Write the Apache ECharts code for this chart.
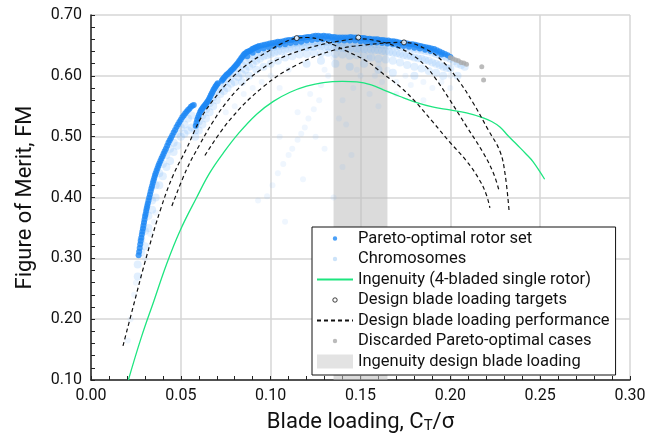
<!DOCTYPE html>
<html><head><meta charset="utf-8">
<script src="https://cdn.jsdelivr.net/npm/echarts@6/dist/echarts.min.js"></script>
<style>html,body{margin:0;padding:0;background:#fff}#c{width:653px;height:439px}</style>
</head><body><div id="c"></div>
<script>
// ---- tick labels ----
const xTickLabels = ['0.00','0.05','0.10','0.15','0.20','0.25','0.30'];
const yTickLabels = ['0.10','0.20','0.30','0.40','0.50','0.60','0.70'];

// ---- Ingenuity design blade loading band (Ct/sigma range) ----
const designBand = [0.135, 0.165];

// ---- Pareto-optimal rotor set [Ct/sigma, FM] ----
const paretoSet = [
[0.0265,0.305],[0.0268,0.311],[0.0271,0.317],[0.0274,0.323],[0.0277,0.329],[0.0280,0.334],[0.0283,0.339],[0.0286,0.344],[0.0289,0.349],[0.0292,0.354],[0.0295,0.359],[0.0298,0.364],[0.0301,0.369],[0.0304,0.373],[0.0307,0.378],[0.0310,0.382],[0.0313,0.386],[0.0316,0.390],[0.0320,0.395],[0.0324,0.400],[0.0328,0.405],[0.0332,0.410],[0.0336,0.415],[0.0340,0.419],[0.0344,0.424],[0.0348,0.428],[0.0352,0.432],[0.0356,0.436],[0.0360,0.440],[0.0365,0.444],[0.0370,0.448],[0.0375,0.452],[0.0380,0.456],[0.0386,0.460],[0.0392,0.464],[0.0398,0.468],[0.0404,0.472],[0.0410,0.476],[0.0417,0.480],[0.0424,0.485],[0.0431,0.490],[0.0438,0.494],[0.0445,0.498],[0.0452,0.502],[0.0460,0.507],[0.0468,0.511],[0.0476,0.516],[0.0484,0.520],[0.0492,0.524],[0.0500,0.528],[0.0508,0.532],[0.0516,0.535],[0.0524,0.538],[0.0532,0.541],[0.0540,0.544],[0.0548,0.546],[0.0556,0.549],[0.0564,0.551],[0.0572,0.552],
[0.0583,0.518],[0.0587,0.523],[0.0591,0.528],[0.0596,0.532],[0.0601,0.536],[0.0607,0.54],[0.0612,0.543],[0.0617,0.545],[0.0622,0.547],[0.0627,0.549],[0.0632,0.551],[0.0637,0.553],[0.0642,0.555],[0.0647,0.557],[0.0652,0.559],[0.0657,0.562],[0.0662,0.565],[0.0667,0.568],[0.0672,0.571],[0.0677,0.574],[0.0682,0.577],[0.0687,0.579],[0.0692,0.582],[0.0697,0.584],[0.0702,0.586],[0.0706,0.588],
[0.0728,0.592],[0.0733,0.594],[0.0738,0.596],[0.0744,0.598],[0.0750,0.6],[0.0756,0.602],[0.0762,0.603],[0.0768,0.605],[0.0775,0.607],[0.0781,0.609],[0.0788,0.611],[0.0794,0.613],[0.0800,0.615],[0.0806,0.617],[0.0812,0.619],[0.0818,0.621],[0.0824,0.624],[0.0830,0.626],[0.0836,0.629],[0.0842,0.631],[0.0848,0.634],[0.0854,0.636],[0.0860,0.637],[0.0868,0.639],[0.0875,0.64],[0.0883,0.641],[0.0890,0.642],[0.0898,0.644],[0.0905,0.645],[0.0913,0.646],[0.0920,0.647],[0.0928,0.648],[0.0935,0.649],[0.0950,0.65],[0.0965,0.651],[0.0980,0.652],[0.0995,0.653],[0.1010,0.654],[0.1025,0.655],[0.1040,0.656],[0.1055,0.656],[0.1070,0.657],[0.1085,0.658],[0.1100,0.659],[0.1115,0.659],[0.1130,0.66],[0.1145,0.661],[0.1160,0.662],[0.1175,0.662],[0.1190,0.663],[0.1205,0.664],[0.1220,0.664],[0.1235,0.665],[0.1250,0.666],[0.1265,0.666],[0.1280,0.665],[0.1295,0.666],[0.1310,0.665],[0.1325,0.665],[0.1340,0.664],[0.1355,0.664],[0.1370,0.663],[0.1385,0.663],[0.1400,0.663],[0.1415,0.663],[0.1430,0.663],[0.1445,0.664],[0.1460,0.663],[0.1475,0.663],[0.1490,0.662],[0.1505,0.662],[0.1520,0.662],[0.1535,0.661],[0.1550,0.661],[0.1565,0.66],[0.1580,0.66],[0.1595,0.66],[0.1610,0.659],[0.1625,0.659],[0.1640,0.658],[0.1655,0.658],[0.1670,0.657],[0.1685,0.657],[0.1700,0.656],[0.1715,0.655],[0.1730,0.654],[0.1745,0.654],[0.1760,0.653],[0.1775,0.652],[0.1790,0.652],[0.1805,0.651],[0.1820,0.65],[0.1835,0.649],[0.1850,0.648],[0.1865,0.647],[0.1880,0.646],[0.1895,0.645],[0.1910,0.644],[0.1925,0.642],[0.1940,0.64],[0.1955,0.638],[0.1970,0.636],[0.1985,0.634],[0.2000,0.631],
[0.0870,0.632],[0.0900,0.638],[0.0930,0.642],[0.0960,0.645],[0.0990,0.647],[0.1020,0.649],[0.1050,0.651],[0.1080,0.652],[0.1110,0.654],[0.1140,0.655],[0.1170,0.656],[0.1200,0.658],[0.1230,0.659],[0.1260,0.66],[0.1290,0.66],[0.1320,0.66],[0.1350,0.659],[0.1380,0.658],[0.1410,0.658],[0.1440,0.658],[0.1470,0.658],[0.1500,0.657],[0.1530,0.656],[0.1560,0.655],[0.1590,0.655],[0.1620,0.654],[0.1650,0.653],[0.1680,0.652],[0.1710,0.65],[0.1740,0.649],[0.1770,0.648],[0.1800,0.646],[0.1830,0.645],[0.1860,0.643],[0.1890,0.641],[0.1920,0.638],[0.1950,0.635]
];

// ---- Chromosomes: dense fringe just below the front ----
const chromosomesDense = [
[0.026,0.29],[0.026,0.27],[0.028,0.31],[0.028,0.33],[0.030,0.345],[0.030,0.32],[0.032,0.37],[0.032,0.35],[0.034,0.395],[0.034,0.38],[0.036,0.42],[0.036,0.40],[0.038,0.44],[0.038,0.42],[0.040,0.455],[0.040,0.435],[0.042,0.47],[0.042,0.45],[0.044,0.48],[0.044,0.46],[0.046,0.49],[0.046,0.475],[0.048,0.505],[0.048,0.485],[0.050,0.515],[0.050,0.50],[0.052,0.52],[0.052,0.505],[0.054,0.53],[0.054,0.51],[0.056,0.535],[0.056,0.515],
[0.058,0.51],[0.058,0.50],[0.060,0.525],[0.060,0.51],[0.062,0.535],[0.062,0.52],[0.064,0.545],[0.064,0.53],[0.066,0.555],[0.066,0.54],[0.068,0.565],[0.068,0.55],[0.070,0.575],[0.070,0.56],[0.072,0.582],[0.072,0.57],[0.074,0.588],[0.074,0.575],[0.076,0.594],[0.076,0.58],[0.078,0.60],[0.078,0.587],[0.080,0.605],[0.080,0.59],[0.082,0.612],[0.082,0.598],
[0.084,0.618],[0.084,0.603],[0.084,0.59],[0.086,0.624],[0.086,0.61],[0.088,0.629],[0.088,0.615],[0.088,0.60],[0.090,0.634],[0.090,0.62],[0.092,0.637],[0.092,0.625],[0.092,0.61],[0.094,0.64],[0.094,0.628],[0.096,0.642],[0.096,0.632],[0.096,0.615],[0.098,0.645],[0.098,0.634],[0.100,0.647],[0.100,0.636],[0.100,0.62],
[0.102,0.648],[0.102,0.638],[0.104,0.649],[0.104,0.64],[0.104,0.625],[0.106,0.650],[0.106,0.641],[0.108,0.651],[0.108,0.643],[0.108,0.63],[0.110,0.652],[0.110,0.644],[0.112,0.653],[0.112,0.645],[0.112,0.632],[0.114,0.654],[0.114,0.646],[0.116,0.655],[0.116,0.646],[0.116,0.635],[0.118,0.655],[0.118,0.647],[0.120,0.656],[0.120,0.647],[0.120,0.636],[0.120,0.62],[0.122,0.657],[0.122,0.648],[0.124,0.657],[0.124,0.648],[0.124,0.638],[0.126,0.657],[0.126,0.649],[0.128,0.657],[0.128,0.649],[0.128,0.637],[0.128,0.625],
[0.130,0.656],[0.130,0.648],[0.132,0.656],[0.132,0.648],[0.132,0.638],[0.134,0.656],[0.134,0.647],[0.136,0.655],[0.136,0.647],[0.136,0.636],[0.136,0.62],[0.138,0.655],[0.138,0.646],[0.140,0.655],[0.140,0.646],[0.140,0.635],[0.142,0.655],[0.142,0.645],[0.144,0.655],[0.144,0.645],[0.144,0.633],[0.144,0.615],[0.146,0.654],[0.146,0.645],[0.148,0.654],[0.148,0.645],[0.148,0.634],[0.150,0.654],[0.150,0.644],[0.152,0.654],[0.152,0.644],[0.152,0.632],[0.152,0.62],
[0.154,0.653],[0.154,0.643],[0.156,0.653],[0.156,0.643],[0.156,0.63],[0.158,0.652],[0.158,0.642],[0.160,0.652],[0.160,0.642],[0.160,0.628],[0.160,0.61],[0.162,0.651],[0.162,0.641],[0.164,0.651],[0.164,0.64],[0.164,0.627],[0.166,0.650],[0.166,0.639],[0.168,0.65],[0.168,0.638],[0.168,0.625],[0.168,0.605],[0.170,0.649],[0.170,0.637],[0.172,0.648],[0.172,0.636],[0.172,0.622],[0.174,0.647],[0.174,0.634],[0.176,0.646],[0.176,0.633],[0.176,0.618],
[0.178,0.645],[0.178,0.632],[0.180,0.644],[0.180,0.63],[0.180,0.615],[0.180,0.60],[0.182,0.643],[0.182,0.629],[0.184,0.642],[0.184,0.628],[0.184,0.612],[0.186,0.641],[0.186,0.626],[0.188,0.64],[0.188,0.625],[0.188,0.608],[0.190,0.638],[0.190,0.622],[0.192,0.636],[0.192,0.62],[0.192,0.605],[0.194,0.634],[0.194,0.618],[0.196,0.632],[0.196,0.615],[0.196,0.60],[0.198,0.630],[0.198,0.613],[0.200,0.628],[0.200,0.612],[0.202,0.624],[0.204,0.62],[0.204,0.60],[0.206,0.618],[0.208,0.615]
];
// ---- Chromosomes: sparse scatter further from the front ----
const chromosomesSparse = [
[0.093,0.395],[0.098,0.402],[0.101,0.42],[0.104,0.44],[0.107,0.455],[0.110,0.47],[0.112,0.48],[0.115,0.495],[0.117,0.505],[0.119,0.515],[0.121,0.53],[0.124,0.545],[0.127,0.56],[0.105,0.50],[0.115,0.54],[0.122,0.57],[0.128,0.585],[0.132,0.60],[0.138,0.53],[0.140,0.56],[0.142,0.52],[0.146,0.58],[0.150,0.60],[0.155,0.57],[0.158,0.60],[0.162,0.59],[0.165,0.61],[0.170,0.59],[0.175,0.60],[0.178,0.585],[0.185,0.59],[0.19,0.58],[0.195,0.59],[0.20,0.60],[0.14,0.45],[0.145,0.47],[0.135,0.40],[0.13,0.48],[0.118,0.43],[0.108,0.36],[0.125,0.50],[0.16,0.55],[0.17,0.57],[0.185,0.56],[0.09,0.58],[0.095,0.59],[0.085,0.57],[0.08,0.55],[0.075,0.54],[0.1,0.60],[0.11,0.61],[0.105,0.58],[0.155,0.63],[0.16,0.62],[0.135,0.63],[0.13,0.61],[0.148,0.61],[0.2,0.58],
[0.025,0.26],[0.024,0.24],[0.022,0.20],[0.0205,0.165],[0.030,0.30],[0.033,0.34],[0.035,0.36],[0.036,0.375]
];

// ---- Ingenuity (4-bladed single rotor) ----
const ingenuity = [
[0.0208,0.10],[0.028,0.17],[0.035,0.23],[0.042,0.29],[0.0495,0.345],[0.0588,0.40],[0.066,0.44],[0.0736,0.473],[0.082,0.505],[0.0922,0.537],[0.1015,0.558],[0.1108,0.573],[0.12,0.583],[0.1293,0.589],[0.14,0.591],[0.148,0.590],[0.156,0.585],[0.1627,0.577],[0.172,0.566],[0.1813,0.556],[0.19,0.549],[0.1998,0.544],[0.209,0.539],[0.2183,0.531],[0.223,0.525],[0.2276,0.516],[0.232,0.502],[0.237,0.487],[0.242,0.472],[0.246,0.459],[0.2525,0.43]
];

// ---- Design blade loading targets ----
const designTargets = [[0.1145,0.662],[0.1488,0.663],[0.1742,0.655]];

// ---- Design blade loading performance (one curve per target) ----
const perfCurve1 = [
[0.0178,0.156],[0.0236,0.222],[0.031,0.304],[0.039,0.383],[0.0458,0.437],[0.0533,0.481],[0.0607,0.528],[0.068,0.56],[0.0792,0.599],[0.0885,0.622],[0.0978,0.639],[0.106,0.653],[0.1145,0.662],[0.121,0.663],[0.128,0.659],[0.135,0.651],[0.142,0.641],[0.1535,0.624],[0.1627,0.603],[0.172,0.582],[0.181,0.556],[0.190,0.525],[0.2,0.49],[0.209,0.46],[0.216,0.43],[0.220,0.405],[0.222,0.383]
];
const perfCurve2 = [
[0.045,0.386],[0.0532,0.446],[0.0607,0.488],[0.068,0.525],[0.075,0.555],[0.083,0.582],[0.093,0.607],[0.1034,0.626],[0.116,0.641],[0.1293,0.652],[0.14,0.658],[0.1488,0.661],[0.16,0.657],[0.17,0.648],[0.18,0.632],[0.1865,0.615],[0.1924,0.593],[0.1998,0.56],[0.209,0.517],[0.2184,0.473],[0.224,0.44],[0.2271,0.4115]
];
const perfCurve3 = [
[0.0634,0.469],[0.0774,0.528],[0.0959,0.582],[0.1145,0.618],[0.1349,0.642],[0.1534,0.651],[0.1742,0.655],[0.187,0.643],[0.196,0.623],[0.2044,0.593],[0.2128,0.555],[0.2211,0.511],[0.2276,0.476],[0.2304,0.44],[0.2327,0.378]
];

// ---- Discarded Pareto-optimal cases ----
const discarded = [[0.2,0.630],[0.2015,0.628],[0.203,0.626],[0.2045,0.625],[0.206,0.622],[0.2075,0.621],[0.209,0.619],[0.2175,0.615],[0.2185,0.593]];

const FONT = 'Roboto, "Noto Sans", sans-serif';
const dot = r => `path://M0,0M36,14M${18-r},7a${r},${r} 0 1,0 ${2*r},0a${r},${r} 0 1,0 ${-2*r},0`;

const chart = echarts.init(document.getElementById('c'), null, {renderer:'canvas'});
const dashStyle = {color:'#111', width:1.2, type:[4,3]};
const noSym = {opacity:0};

chart.setOption({
  animation:false,
  backgroundColor:'#fff',
  textStyle:{fontFamily:FONT},
  grid:{left:91, right:23, top:15, bottom:58, containLabel:false},
  xAxis:{
    type:'value', min:0, max:0.3, interval:0.05,
    name:'Blade loading, C{sub|T}/σ', nameLocation:'middle', nameGap:30,
    nameTextStyle:{fontSize:22, color:'#111', fontFamily:FONT, rich:{sub:{fontSize:15, verticalAlign:'bottom', padding:[9,0,0,0], color:'#111', fontFamily:FONT}}},
    axisLine:{show:true, onZero:false, lineStyle:{color:'#222', width:1.5}},
    axisTick:{show:true, inside:true, length:4, lineStyle:{color:'#222'}},
    minorTick:{show:true, splitNumber:5, length:4, lineStyle:{color:'#222'}},
    axisLabel:{fontSize:16, color:'#111', margin:8, formatter:v=>xTickLabels[Math.round(v/0.05)]},
    splitLine:{show:true, lineStyle:{color:'#d6d6d6', width:1.5}}
  },
  yAxis:{
    type:'value', min:0.1, max:0.7, interval:0.1,
    name:'Figure of Merit, FM', nameLocation:'middle', nameGap:55,
    nameTextStyle:{fontSize:22, color:'#111', fontFamily:FONT},
    axisLine:{show:true, onZero:false, lineStyle:{color:'#222', width:1.5}},
    axisTick:{show:true, inside:true, length:4, lineStyle:{color:'#222'}},
    minorTick:{show:true, splitNumber:5, length:4, lineStyle:{color:'#222'}},
    axisLabel:{fontSize:16, color:'#111', margin:9, formatter:v=>yTickLabels[Math.round((v-0.1)/0.1)]},
    splitLine:{show:true, lineStyle:{color:'#d6d6d6', width:1.5}}
  },
  legend:{
    orient:'vertical', left:312, top:227,
    padding:[3,6,5,4], itemGap:3.5, itemWidth:36, itemHeight:14,
    backgroundColor:'#fff', borderColor:'#111', borderWidth:1, borderRadius:0,
    selectedMode:false,
    textStyle:{fontSize:16.5, color:'#111', fontFamily:FONT},
    data:[
      {name:'Pareto-optimal rotor set', icon:dot(2.2), itemStyle:{color:'#1e88f5'}},
      {name:'Chromosomes', icon:dot(2.2), itemStyle:{color:'#bfdcf8'}},
      {name:'Ingenuity (4-bladed single rotor)', itemStyle:noSym},
      {name:'Design blade loading targets', icon:dot(2.2), itemStyle:{color:'#fff', borderColor:'#111', borderWidth:1}},
      {name:'Design blade loading performance', itemStyle:noSym},
      {name:'Discarded Pareto-optimal cases', icon:dot(2.2), itemStyle:{color:'#aaaaaa'}},
      {name:'Ingenuity design blade loading', icon:'rect', itemStyle:{color:'#dcdcdc'}}
    ]
  },
  series:[
    {name:'Ingenuity design blade loading', type:'scatter', data:[], silent:true,
      markArea:{silent:true, itemStyle:{color:'rgba(190,190,190,0.55)'},
        data:[[{xAxis:designBand[0], yAxis:0.1},{xAxis:designBand[1], yAxis:0.7}]]}},
    {name:'Chromosomes', type:'scatter', z:2, symbolSize:6, data:chromosomesSparse, silent:true,
      itemStyle:{color:'rgba(130,185,245,0.16)'}},
    {name:'Chromosomes', type:'scatter', z:2, symbolSize:8, data:chromosomesDense, silent:true,
      itemStyle:{color:'rgba(110,180,250,0.26)'}},
    {name:'Pareto-optimal rotor set', type:'scatter', z:3, symbolSize:6, data:paretoSet, silent:true,
      itemStyle:{color:'#1e88f5'}},
    {name:'Discarded Pareto-optimal cases', type:'scatter', z:3, symbolSize:5, data:discarded, silent:true,
      itemStyle:{color:'#aaaaaa'}},
    {name:'Ingenuity (4-bladed single rotor)', type:'line', z:4, data:ingenuity, smooth:0.4, symbol:'none', showSymbol:false, silent:true,
      lineStyle:{color:'#1de57f', width:1.3}, itemStyle:{color:'#1de57f'}},
    {name:'Design blade loading performance', type:'line', z:5, data:perfCurve1, smooth:0.4, symbol:'none', showSymbol:false, silent:true, lineStyle:dashStyle, itemStyle:{color:'#111'}},
    {name:'Design blade loading performance', type:'line', z:5, data:perfCurve2, smooth:0.4, symbol:'none', showSymbol:false, silent:true, lineStyle:dashStyle, itemStyle:{color:'#111'}},
    {name:'Design blade loading performance', type:'line', z:5, data:perfCurve3, smooth:0.4, symbol:'none', showSymbol:false, silent:true, lineStyle:dashStyle, itemStyle:{color:'#111'}},
    {name:'Design blade loading targets', type:'scatter', z:6, symbolSize:5, data:designTargets, silent:true,
      itemStyle:{color:'#fff', borderColor:'#111', borderWidth:1}}
  ]
});
</script>
</body></html>
